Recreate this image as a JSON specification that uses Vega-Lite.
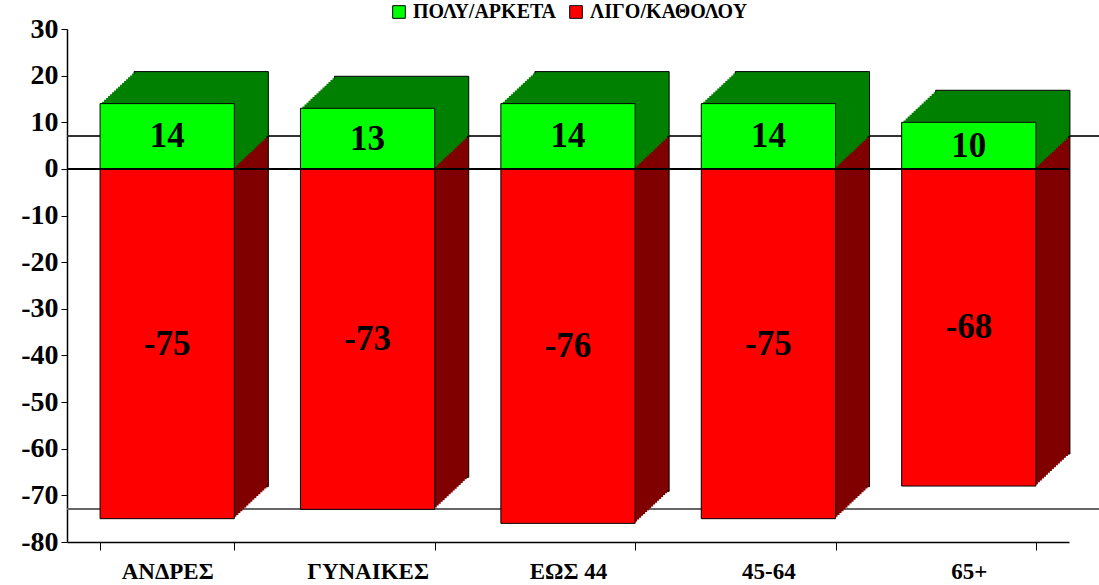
{
  "$schema": "https://vega.github.io/schema/vega-lite/v6.json",
  "width": 1002,
  "height": 513,
  "autosize": {"type": "none"},
  "padding": {"left": 67, "top": 29, "right": 30, "bottom": 43},
  "background": "white",
  "config": {"view": {"stroke": null}},
  "data": {
    "values": [
      {"cat": "ΑΝΔΡΕΣ", "group": "ΠΟΛΥ/ΑΡΚΕΤΑ", "value": 14},
      {"cat": "ΓΥΝΑΙΚΕΣ", "group": "ΠΟΛΥ/ΑΡΚΕΤΑ", "value": 13},
      {"cat": "ΕΩΣ 44", "group": "ΠΟΛΥ/ΑΡΚΕΤΑ", "value": 14},
      {"cat": "45-64", "group": "ΠΟΛΥ/ΑΡΚΕΤΑ", "value": 14},
      {"cat": "65+", "group": "ΠΟΛΥ/ΑΡΚΕΤΑ", "value": 10},
      {"cat": "ΑΝΔΡΕΣ", "group": "ΛΙΓΟ/ΚΑΘΟΛΟΥ", "value": -75},
      {"cat": "ΓΥΝΑΙΚΕΣ", "group": "ΛΙΓΟ/ΚΑΘΟΛΟΥ", "value": -73},
      {"cat": "ΕΩΣ 44", "group": "ΛΙΓΟ/ΚΑΘΟΛΟΥ", "value": -76},
      {"cat": "45-64", "group": "ΛΙΓΟ/ΚΑΘΟΛΟΥ", "value": -75},
      {"cat": "65+", "group": "ΛΙΓΟ/ΚΑΘΟΛΟΥ", "value": -68}
    ]
  },
  "layer": [
    {
      "mark": {"type": "rule", "color": "#333", "strokeWidth": 1, "xOffset": 34, "x2Offset": 34, "yOffset": -33, "y2Offset": -33},
      "encoding": {"y": {"datum": 0, "scale": {"domain": [-80, 30], "nice": false}}}
    },
    {
      "mark": {"type": "rule", "color": "#666", "strokeWidth": 2, "xOffset": 34, "x2Offset": 34, "yOffset": -33, "y2Offset": -33},
      "encoding": {"y": {"datum": -80}}
    },
    {
      "encoding": {
        "x": {
          "field": "cat", "type": "nominal", "sort": null,
          "scale": {"paddingInner": 0.33, "paddingOuter": 0.165},
          "axis": {
            "title": null, "labelAngle": 0, "domainColor": "black", "domainWidth": 1.5,
            "tickColor": "black", "tickBand": "extent", "tickSize": 8,
            "labelFont": "Liberation Serif", "labelFontWeight": "bold", "labelFontSize": 23,
            "labelColor": "black", "labelPadding": 10
          }
        },
        "y": {
          "field": "value", "type": "quantitative", "stack": "zero",
          "scale": {"domain": [-80, 30], "nice": false},
          "axis": {
            "title": null, "values": [-80, -70, -60, -50, -40, -30, -20, -10, 0, 10, 20, 30],
            "labelExpr": "datum.value + ''",
            "grid": false, "domainColor": "black", "domainWidth": 1.5, "tickColor": "black", "tickSize": 6,
            "labelFont": "Liberation Serif", "labelFontWeight": "bold", "labelFontSize": 28,
            "labelColor": "black", "labelPadding": 3
          }
        }
      },
      "resolve": {"scale": {"color": "independent"}},
      "layer": [
        {"mark": {"type": "bar", "stroke": "black", "strokeWidth": 1, "xOffset": 34, "yOffset": -32, "y2Offset": -32},
         "encoding": {"color": {"field": "group", "scale": {"domain": ["ΠΟΛΥ/ΑΡΚΕΤΑ", "ΛΙΓΟ/ΚΑΘΟΛΟΥ"], "range": ["#008000", "#800000"]}, "legend": null}}},
        {"mark": {"type": "bar", "strokeWidth": 0, "xOffset": 32, "yOffset": -30.12, "y2Offset": -30.12},
         "encoding": {"color": {"field": "group", "scale": {"domain": ["ΠΟΛΥ/ΑΡΚΕΤΑ", "ΛΙΓΟ/ΚΑΘΟΛΟΥ"], "range": ["#008000", "#800000"]}, "legend": null}}},
        {"mark": {"type": "bar", "strokeWidth": 0, "xOffset": 30, "yOffset": -28.24, "y2Offset": -28.24},
         "encoding": {"color": {"field": "group", "scale": {"domain": ["ΠΟΛΥ/ΑΡΚΕΤΑ", "ΛΙΓΟ/ΚΑΘΟΛΟΥ"], "range": ["#008000", "#800000"]}, "legend": null}}},
        {"mark": {"type": "bar", "strokeWidth": 0, "xOffset": 28, "yOffset": -26.35, "y2Offset": -26.35},
         "encoding": {"color": {"field": "group", "scale": {"domain": ["ΠΟΛΥ/ΑΡΚΕΤΑ", "ΛΙΓΟ/ΚΑΘΟΛΟΥ"], "range": ["#008000", "#800000"]}, "legend": null}}},
        {"mark": {"type": "bar", "strokeWidth": 0, "xOffset": 26, "yOffset": -24.47, "y2Offset": -24.47},
         "encoding": {"color": {"field": "group", "scale": {"domain": ["ΠΟΛΥ/ΑΡΚΕΤΑ", "ΛΙΓΟ/ΚΑΘΟΛΟΥ"], "range": ["#008000", "#800000"]}, "legend": null}}},
        {"mark": {"type": "bar", "strokeWidth": 0, "xOffset": 24, "yOffset": -22.59, "y2Offset": -22.59},
         "encoding": {"color": {"field": "group", "scale": {"domain": ["ΠΟΛΥ/ΑΡΚΕΤΑ", "ΛΙΓΟ/ΚΑΘΟΛΟΥ"], "range": ["#008000", "#800000"]}, "legend": null}}},
        {"mark": {"type": "bar", "strokeWidth": 0, "xOffset": 22, "yOffset": -20.71, "y2Offset": -20.71},
         "encoding": {"color": {"field": "group", "scale": {"domain": ["ΠΟΛΥ/ΑΡΚΕΤΑ", "ΛΙΓΟ/ΚΑΘΟΛΟΥ"], "range": ["#008000", "#800000"]}, "legend": null}}},
        {"mark": {"type": "bar", "strokeWidth": 0, "xOffset": 20, "yOffset": -18.82, "y2Offset": -18.82},
         "encoding": {"color": {"field": "group", "scale": {"domain": ["ΠΟΛΥ/ΑΡΚΕΤΑ", "ΛΙΓΟ/ΚΑΘΟΛΟΥ"], "range": ["#008000", "#800000"]}, "legend": null}}},
        {"mark": {"type": "bar", "strokeWidth": 0, "xOffset": 18, "yOffset": -16.94, "y2Offset": -16.94},
         "encoding": {"color": {"field": "group", "scale": {"domain": ["ΠΟΛΥ/ΑΡΚΕΤΑ", "ΛΙΓΟ/ΚΑΘΟΛΟΥ"], "range": ["#008000", "#800000"]}, "legend": null}}},
        {"mark": {"type": "bar", "strokeWidth": 0, "xOffset": 16, "yOffset": -15.06, "y2Offset": -15.06},
         "encoding": {"color": {"field": "group", "scale": {"domain": ["ΠΟΛΥ/ΑΡΚΕΤΑ", "ΛΙΓΟ/ΚΑΘΟΛΟΥ"], "range": ["#008000", "#800000"]}, "legend": null}}},
        {"mark": {"type": "bar", "strokeWidth": 0, "xOffset": 14, "yOffset": -13.18, "y2Offset": -13.18},
         "encoding": {"color": {"field": "group", "scale": {"domain": ["ΠΟΛΥ/ΑΡΚΕΤΑ", "ΛΙΓΟ/ΚΑΘΟΛΟΥ"], "range": ["#008000", "#800000"]}, "legend": null}}},
        {"mark": {"type": "bar", "strokeWidth": 0, "xOffset": 12, "yOffset": -11.29, "y2Offset": -11.29},
         "encoding": {"color": {"field": "group", "scale": {"domain": ["ΠΟΛΥ/ΑΡΚΕΤΑ", "ΛΙΓΟ/ΚΑΘΟΛΟΥ"], "range": ["#008000", "#800000"]}, "legend": null}}},
        {"mark": {"type": "bar", "strokeWidth": 0, "xOffset": 10, "yOffset": -9.41, "y2Offset": -9.41},
         "encoding": {"color": {"field": "group", "scale": {"domain": ["ΠΟΛΥ/ΑΡΚΕΤΑ", "ΛΙΓΟ/ΚΑΘΟΛΟΥ"], "range": ["#008000", "#800000"]}, "legend": null}}},
        {"mark": {"type": "bar", "strokeWidth": 0, "xOffset": 8, "yOffset": -7.53, "y2Offset": -7.53},
         "encoding": {"color": {"field": "group", "scale": {"domain": ["ΠΟΛΥ/ΑΡΚΕΤΑ", "ΛΙΓΟ/ΚΑΘΟΛΟΥ"], "range": ["#008000", "#800000"]}, "legend": null}}},
        {"mark": {"type": "bar", "strokeWidth": 0, "xOffset": 6, "yOffset": -5.65, "y2Offset": -5.65},
         "encoding": {"color": {"field": "group", "scale": {"domain": ["ΠΟΛΥ/ΑΡΚΕΤΑ", "ΛΙΓΟ/ΚΑΘΟΛΟΥ"], "range": ["#008000", "#800000"]}, "legend": null}}},
        {"mark": {"type": "bar", "strokeWidth": 0, "xOffset": 4, "yOffset": -3.76, "y2Offset": -3.76},
         "encoding": {"color": {"field": "group", "scale": {"domain": ["ΠΟΛΥ/ΑΡΚΕΤΑ", "ΛΙΓΟ/ΚΑΘΟΛΟΥ"], "range": ["#008000", "#800000"]}, "legend": null}}},
        {"mark": {"type": "bar", "strokeWidth": 0, "xOffset": 2, "yOffset": -1.88, "y2Offset": -1.88},
         "encoding": {"color": {"field": "group", "scale": {"domain": ["ΠΟΛΥ/ΑΡΚΕΤΑ", "ΛΙΓΟ/ΚΑΘΟΛΟΥ"], "range": ["#008000", "#800000"]}, "legend": null}}},
        {"mark": {"type": "bar", "stroke": "black", "strokeWidth": 1, "opacity": 1},
         "encoding": {
           "color": {
             "field": "group", "type": "nominal",
             "scale": {"domain": ["ΠΟΛΥ/ΑΡΚΕΤΑ", "ΛΙΓΟ/ΚΑΘΟΛΟΥ"], "range": ["#00ff00", "#ff0000"]},
             "legend": {
               "title": null, "orient": "none", "legendX": 322, "legendY": -27, "direction": "horizontal",
               "symbolType": "square", "symbolSize": 160, "symbolStrokeColor": "black", "symbolStrokeWidth": 1,
               "symbolOpacity": 1,
               "labelFont": "Liberation Serif", "labelFontWeight": "bold", "labelFontSize": 20,
               "labelColor": "black", "columnPadding": 10, "labelOffset": 4
             }
           }
         }}
      ]
    },
    {
      "mark": {"type": "rule", "color": "black", "strokeWidth": 1},
      "encoding": {"y": {"datum": 0}}
    },
    {
      "mark": {"type": "text", "font": "Liberation Serif", "fontWeight": "bold", "fontSize": 35, "color": "black", "baseline": "middle", "align": "center"},
      "encoding": {
        "x": {"field": "cat", "type": "nominal", "sort": null},
        "y": {"field": "value", "type": "quantitative", "stack": "zero", "bandPosition": 0.5},
        "detail": {"field": "group"},
        "text": {"field": "value", "type": "nominal"}
      }
    }
  ]
}
